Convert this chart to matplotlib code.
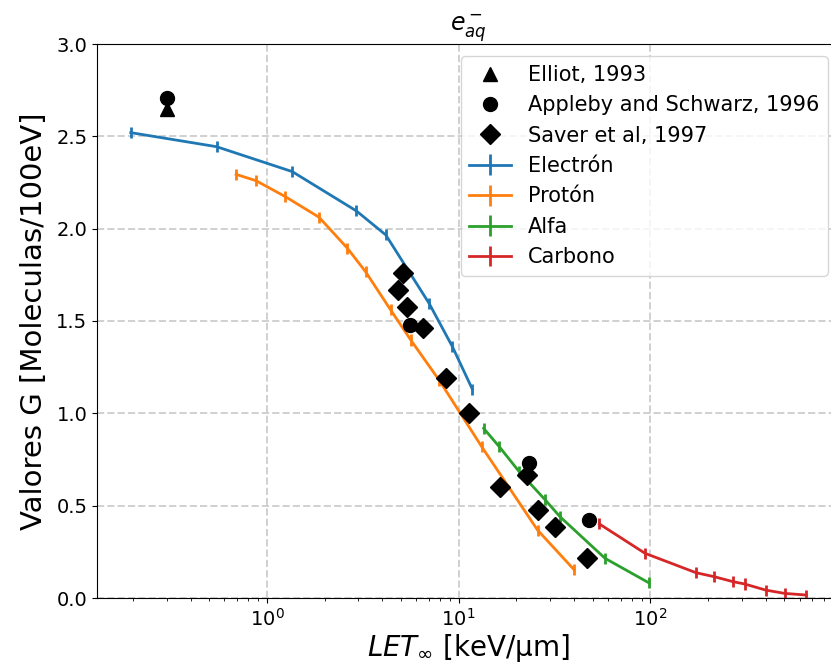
import matplotlib.pyplot as plt
import numpy as np
import matplotlib
matplotlib.use('Agg')

# G-values of the hydrated electron vs LET
let_elec = [0.195, 0.546, 1.356, 2.93, 4.17, 7.01, 9.28, 11.8]
g_elec = [2.52, 2.444, 2.309, 2.096, 1.966, 1.596, 1.361, 1.13]

let_prot = [0.691, 0.877, 1.25, 1.87, 2.63, 3.27, 4.42, 5.63, 7.91, 13.2, 25.8, 40.1]
g_prot = [2.294, 2.26, 2.173, 2.062, 1.894, 1.767, 1.56, 1.397, 1.18, 0.819, 0.368, 0.152]

let_alfa = [13.5, 16.3, 20.7, 28.3, 33.8, 58.0, 97.9]
g_alfa = [0.919, 0.819, 0.684, 0.531, 0.44, 0.215, 0.083]

let_carb = [54.2, 93.8, 173, 216, 271, 310, 399, 501, 650]
g_carb = [0.401, 0.242, 0.137, 0.115, 0.088, 0.076, 0.043, 0.025, 0.016]

# experimental data
let_elliot = [0.3]
g_elliot = [2.65]

let_appleby = [0.3, 5.55, 23.2, 48.1]
g_appleby = [2.706, 1.48, 0.729, 0.422]

let_saver = [5.13, 4.83, 5.41, 6.55, 8.55, 11.35, 16.5, 22.6, 26.0, 31.9, 46.5]
g_saver = [1.758, 1.668, 1.578, 1.46, 1.19, 1.003, 0.599, 0.666, 0.477, 0.386, 0.215]

err = 0.03

fig = plt.figure(figsize=(8.31, 6.70), dpi=100)
ax = fig.add_axes([97/831, 72/670, 743/831, 554/670])

ax.plot(let_elliot, g_elliot, '^', color='black', markersize=10, label='Elliot, 1993', zorder=4)
ax.plot(let_appleby, g_appleby, 'o', color='black', markersize=10, label='Appleby and Schwarz, 1996', zorder=4)
ax.plot(let_saver, g_saver, 'D', color='black', markersize=10, label='Saver et al, 1997', zorder=4)

ax.errorbar(let_elec, g_elec, yerr=err, color='#1f77b4', lw=2, elinewidth=2, label='Electrón')
ax.errorbar(let_prot, g_prot, yerr=err, color='#ff7f0e', lw=2, elinewidth=2, label='Protón')
ax.errorbar(let_alfa, g_alfa, yerr=err, color='#2ca02c', lw=2, elinewidth=2, label='Alfa')
ax.errorbar(let_carb, g_carb, yerr=err, color='#d62728', lw=2, elinewidth=2, label='Carbono')

ax.set_xscale('log')
ax.set_ylim(0, 3.0)
ax.grid(True, which='major', linestyle='--', color='#d0d0d0', linewidth=1.4)
ax.set_axisbelow(True)
ax.tick_params(labelsize=14)

ax.set_title(r'$e^-_{aq}$', fontsize=17)
ax.set_xlabel(r'$LET_\infty$ [keV/µm]', fontsize=20, labelpad=2)
ax.set_ylabel('Valores G [Moleculas/100eV]', fontsize=21, labelpad=6)
ax.legend(loc='upper right', fontsize=15, handlelength=2.0, borderaxespad=0.6)

plt.savefig('out.png', dpi=100)
